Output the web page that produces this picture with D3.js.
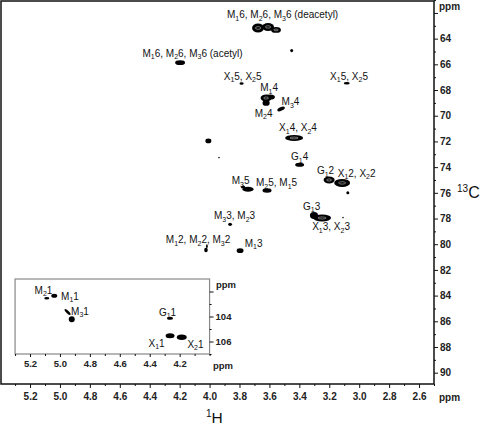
<!DOCTYPE html>
<html><head><meta charset="utf-8">
<script src="https://cdn.jsdelivr.net/npm/d3@7"></script>
<style>
html,body{margin:0;padding:0;background:#fff;}
svg{display:block;font-family:"Liberation Sans",Arial,Helvetica,sans-serif;}
</style></head>
<body>
<svg id="c" width="480" height="427"></svg>
<script>
// ---------- DATA ----------
// main spectrum axis ticks (ppm)
const xMajorTicks = [5.2,5.0,4.8,4.6,4.4,4.2,4.0,3.8,3.6,3.4,3.2,3.0,2.8,2.6];
const xMinorTicks = [5.3,5.1,4.9,4.7,4.5,4.3,4.1,3.9,3.7,3.5,3.3,3.1,2.9,2.7,2.5];
const yMajorTicks = [62,64,66,68,70,72,74,76,78,80,82,84,86,88,90];
const yLabelTicks = [64,66,68,70,72,74,76,78,80,82,84,86,88,90];
const yMinorTicks = [61,63,65,67,69,71,73,75,77,79,81,83,85,87,89];
// inset (anomeric region) ticks
const insetXMajor = [5.2,5.0,4.8,4.6,4.4,4.2];
const insetXMinor = [5.3,5.1,4.9,4.7,4.5,4.3,4.1,4.0];
const insetYMajor = [102,104,106];
const insetYLabels = [104,106];
const insetYMinor = [103,105,107];

// cross peaks: [1H ppm, 13C ppm, half-width 1H ppm, half-width 13C ppm, tilt deg]
const mainPeaks = [
  [3.676,63.17,0.040,0.35,0],[3.609,63.09,0.040,0.31,0],[3.556,63.32,0.033,0.23,0],
  [4.197,65.87,0.033,0.19,0],
  [3.451,64.93,0.010,0.12,0],
  [3.786,67.49,0.014,0.10,0],
  [3.083,67.47,0.020,0.10,0],
  [3.622,68.62,0.037,0.27,0],[3.596,68.54,0.033,0.20,0],[3.622,69.00,0.024,0.23,0],
  [3.522,69.47,0.027,0.14,-25],
  [3.435,71.73,0.060,0.23,0],
  [4.008,71.96,0.020,0.19,0],
  [3.937,73.26,0.005,0.06,0],
  [3.398,73.81,0.030,0.16,0],
  [3.201,75.00,0.037,0.27,0],[3.114,75.23,0.053,0.31,0],
  [3.076,75.99,0.010,0.12,0],
  [3.743,75.72,0.037,0.19,0],[3.776,75.55,0.015,0.12,0],
  [3.616,75.82,0.030,0.17,0],
  [3.302,77.76,0.027,0.27,0],[3.248,77.96,0.060,0.27,0],
  [3.108,77.93,0.005,0.06,0],
  [3.863,78.45,0.013,0.13,0],
  [4.024,80.45,0.012,0.17,0],[4.018,80.15,0.006,0.15,0],
  [3.796,80.50,0.023,0.19,0]
];
const insetPeaks = [
  [5.088,102.54,0.017,0.10,0],
  [5.038,102.34,0.020,0.16,0],
  [4.949,103.64,0.027,0.10,45],
  [4.921,104.22,0.020,0.24,0],
  [4.264,104.14,0.020,0.12,0],
  [4.264,105.54,0.030,0.20,0],
  [4.186,105.66,0.033,0.22,0]
];

// assignments: [text ("_" marks a subscript character), 1H ppm, 13C ppm]
const mainLabels = [
  ["M_16, M_26, M_36 (deacetyl)",3.512,62.43],
  ["M_16, M_26, M_36 (acetyl)",4.114,65.39],
  ["X_15, X_25",3.779,67.18],
  ["X_15, X_25",3.068,67.18],
  ["M_14",3.602,68.11],
  ["M_34",3.459,69.20],
  ["M_24",3.639,70.06],
  ["X_14, X_24",3.409,71.22],
  ["G_14",3.398,73.48],
  ["G_12",3.225,74.57],
  ["X_12, X_22",3.017,74.73],
  ["M_35",3.793,75.35],
  ["M_25, M_15",3.552,75.50],
  ["G_13",3.318,77.30],
  ["X_13, X_23",3.188,78.93],
  ["M_33, M_23",3.833,78.07],
  ["M_12, M_22, M_32",4.077,79.94],
  ["M_13",3.706,80.18]
];
const insetLabels = [
  ["M_21",5.110,102.16],
  ["M_11",4.933,102.64],
  ["M_31",4.866,103.84],
  ["G_11",4.281,103.92],
  ["X_11",4.354,106.42],
  ["X_21",4.094,106.50]
];

// ---------- DRAW ----------
const svg = d3.select("#c");
const x = d3.scaleLinear().domain([5.394,2.5]).range([1,434]);
const y = d3.scaleLinear().domain([61.07,90.88]).range([1,384]);
const yi = d3.scaleLinear().domain([101,107]).range([279,354]);
const xi = d3.scaleLinear().domain([5.3,4.0]).range([x(5.3),x(4.0)]);

const tickCol = "#222";
function styleAxis(g, fs){
  g.select(".domain").remove();
  g.selectAll(".tick line").attr("stroke","#111").attr("stroke-width",1);
  g.selectAll(".tick text").attr("fill",tickCol).attr("font-weight","bold")
    .attr("font-size",fs).attr("font-family","'Liberation Sans',Arial,sans-serif");
}

// main axes
const gx = svg.append("g").attr("transform","translate(0,384)");
gx.append("g").call(d3.axisBottom(x).tickValues(xMajorTicks).tickSize(4).tickPadding(5).tickFormat(d3.format(".1f"))).call(styleAxis,10);
gx.append("g").call(d3.axisBottom(x).tickValues(xMinorTicks).tickSize(2).tickFormat("")).call(styleAxis,10);
const gy = svg.append("g").attr("transform","translate(434,0)");
gy.append("g").call(d3.axisRight(y).tickValues(yMajorTicks).tickSize(4).tickPadding(2)
   .tickFormat(d => yLabelTicks.includes(d) ? d3.format("d")(d) : "")).call(styleAxis,10);
gy.append("g").call(d3.axisRight(y).tickValues(yMinorTicks).tickSize(2).tickFormat("")).call(styleAxis,10);

svg.append("rect").attr("x",1).attr("y",1).attr("width",433).attr("height",383)
  .attr("fill","none").attr("stroke","#111").attr("stroke-width",1.5);

svg.append("text").attr("x",439).attr("y",10).attr("font-size",10).attr("font-weight","bold").attr("fill",tickCol).text("ppm");
svg.append("text").attr("x",439).attr("y",401).attr("font-size",10).attr("font-weight","bold").attr("fill",tickCol).text("ppm");

// axis titles
const tH = svg.append("text").attr("x",206).attr("y",423).attr("font-size",15.5).attr("fill","#111");
tH.append("tspan").attr("font-size",10).attr("dy",-6).text("1");
tH.append("tspan").attr("dy",6).text("H");
const tC = svg.append("text").attr("x",457).attr("y",198).attr("font-size",16).attr("fill","#111");
tC.append("tspan").attr("font-size",10).attr("dy",-6).text("13");
tC.append("tspan").attr("dy",6).text("C");

// inset frame and axes
svg.append("rect").attr("x",xi(5.3)).attr("y",279).attr("width",xi(4.0)-xi(5.3)).attr("height",75)
  .attr("fill","#fff").attr("stroke","#888").attr("stroke-width",1.2);
const gix = svg.append("g").attr("transform","translate(0,354)");
gix.append("g").call(d3.axisBottom(xi).tickValues(insetXMajor).tickSize(3).tickPadding(3).tickFormat(d3.format(".1f"))).call(styleAxis,9.5);
gix.append("g").call(d3.axisBottom(xi).tickValues(insetXMinor).tickSize(2).tickFormat("")).call(styleAxis,9.5);
const giy = svg.append("g").attr("transform",`translate(${xi(4.0)},0)`);
giy.append("g").call(d3.axisRight(yi).tickValues(insetYMajor).tickSize(4).tickPadding(2)
   .tickFormat(d => insetYLabels.includes(d) ? d3.format("d")(d) : "")).call(styleAxis,9.5);
giy.append("g").call(d3.axisRight(yi).tickValues(insetYMinor).tickSize(2).tickFormat("")).call(styleAxis,9.5);
svg.append("text").attr("x",216).attr("y",288).attr("font-size",9.5).attr("font-weight","bold").attr("fill",tickCol).text("ppm");
svg.append("text").attr("x",213).attr("y",369).attr("font-size",9.5).attr("font-weight","bold").attr("fill",tickCol).text("ppm");

// peaks
function drawPeaks(data, xs, ys){
  const g = svg.append("g");
  data.forEach(p => {
    const cx = xs(p[0]), cy = ys(p[1]);
    const rx = Math.abs(xs(p[0]+p[2]) - cx), ry = Math.abs(ys(p[1]+p[3]) - cy);
    const tr = p[4] ? `rotate(${p[4]},${cx},${cy})` : null;
    g.append("ellipse").attr("cx",cx).attr("cy",cy).attr("rx",rx).attr("ry",ry)
      .attr("fill","#000").attr("transform",tr);
  });
  data.forEach(p => {
    const cx = xs(p[0]), cy = ys(p[1]);
    const rx = Math.abs(xs(p[0]+p[2]) - cx), ry = Math.abs(ys(p[1]+p[3]) - cy);
    if (rx > 4.5 && ry > 2.8) {
      g.append("ellipse").attr("cx",cx).attr("cy",cy).attr("rx",rx*0.45).attr("ry",ry*0.3)
        .attr("fill","none").attr("stroke","#fff").attr("stroke-width",0.45);
    }
  });
}
drawPeaks(mainPeaks, x, y);
drawPeaks(insetPeaks, xi, yi);

// labels
function drawLabels(data, xs, ys){
  const g = svg.append("g");
  data.forEach(l => {
    const t = g.append("text").attr("x",xs(l[1])).attr("y",ys(l[2]))
      .attr("text-anchor","middle").attr("font-size",10).attr("fill","#111");
    const parts = l[0].split(/_(.)/);
    let sub = false;
    parts.forEach((s,i) => {
      if (!s) return;
      if (i % 2 === 1) {
        t.append("tspan").attr("font-size",7).attr("dy",2.5).text(s);
        sub = true;
      } else {
        const ts = t.append("tspan").text(s);
        if (sub) { ts.attr("dy",-2.5); sub = false; }
      }
    });
  });
}
drawLabels(mainLabels, x, y);
drawLabels(insetLabels, xi, yi);
</script>
</body></html>
